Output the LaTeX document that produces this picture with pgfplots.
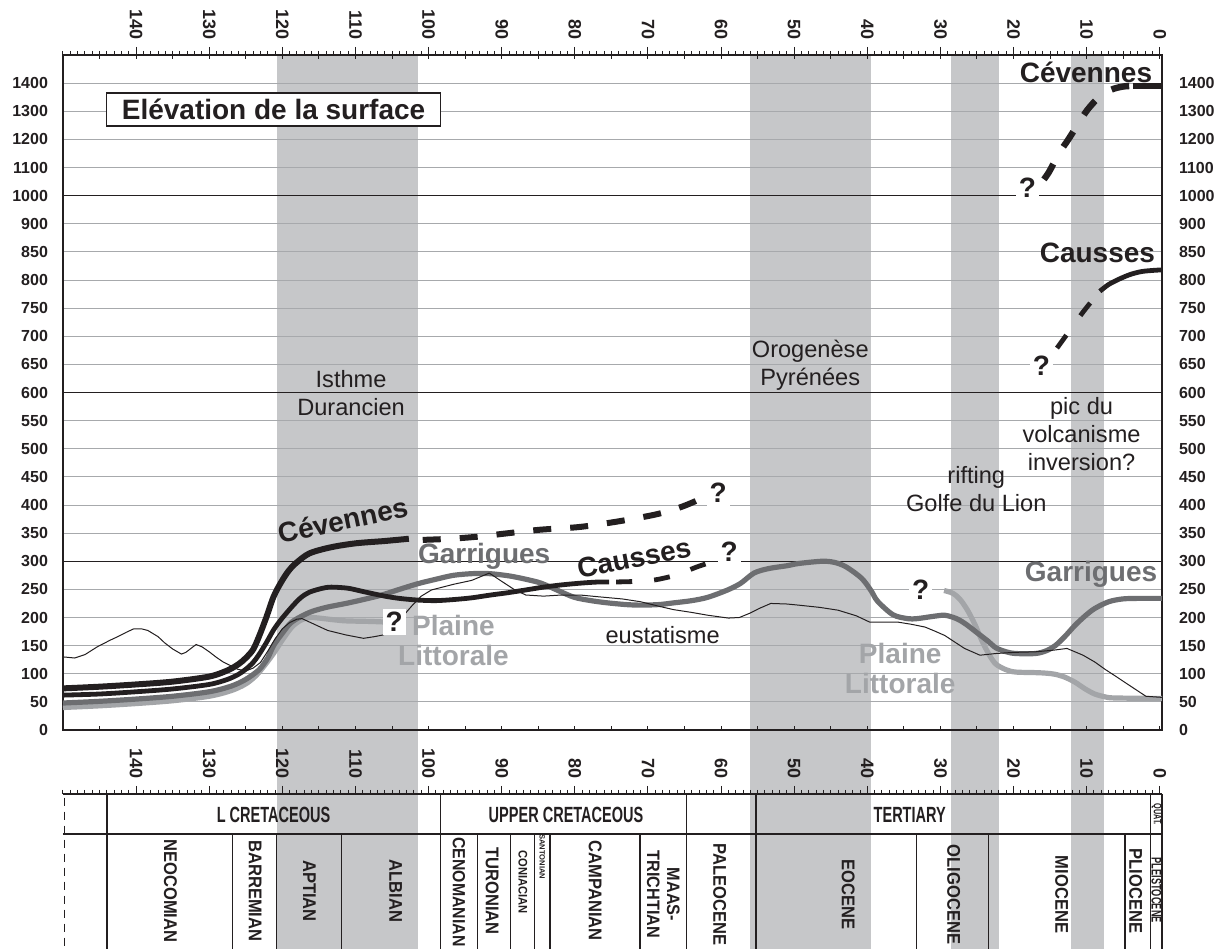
\documentclass[border=0pt]{standalone}
\usepackage{pgfplots}
\pgfplotsset{compat=1.18}
\usepackage{fontspec}
\setmainfont{Liberation Sans}
\newfontfamily\narrowfont[FakeStretch=0.66]{Liberation Sans}
\newfontfamily\tabfont[FakeStretch=0.9]{Liberation Sans}
\definecolor{band}{HTML}{C6C7C9}
\definecolor{gridc}{HTML}{A7A9AC}
\definecolor{ink}{HTML}{231F20}
\definecolor{garr}{HTML}{6D6E71}
\definecolor{plaine}{HTML}{A3A5A8}
\newcommand{\F}[2]{\fontsize{#1}{#2}\selectfont}
\pgfplotsset{myframe/.style={anchor=south west,scale only axis,width=549.5pt,height=337.5pt,
  xmin=-0.3,xmax=150,x dir=reverse,ymin=0,ymax=24}}
\begin{document}
\begin{tikzpicture}
% ---------- bands
\begin{axis}[myframe, hide axis, clip=false]
\addplot[draw=none,fill=band] coordinates {(120.8,24) (101.5,24) (101.5,-7.8) (120.8,-7.8)} --cycle;
\addplot[draw=none,fill=band] coordinates {(56,24) (39.5,24) (39.5,-7.8) (56,-7.8)} --cycle;
\addplot[draw=none,fill=band] coordinates {(28.6,24) (22,24) (22,-7.8) (28.6,-7.8)} --cycle;
\addplot[draw=none,fill=band] coordinates {(12.1,24) (7.6,24) (7.6,-7.8) (12.1,-7.8)} --cycle;
\end{axis}
% ---------- top ruler
\begin{axis}[myframe,
  axis x line*=top, axis y line=none, x axis line style={draw=none},
  tick align=outside, xtick={0,10,...,140}, minor xtick={0,1,...,150},
  xticklabels={0,10,20,30,40,50,60,70,80,90,100,110,120,130,140},
  major tick length=4pt, minor tick length=2pt,
  tick style={ink,line width=0.5pt},
  xticklabel style={rotate=-90,anchor=east,font=\F{9}{9}\bfseries,text=ink}]
\end{axis}
% ---------- lower ruler (same frame, shifted down)
\begin{axis}[myframe, yshift=-369.5pt,
  axis x line*=top, axis y line=none, x axis line style={ink,line width=0.7pt},
  tick align=outside, xtick={0,10,...,140}, minor xtick={0,1,...,150},
  xticklabels={0,10,20,30,40,50,60,70,80,90,100,110,120,130,140},
  major tick length=4pt, minor tick length=2pt,
  tick style={ink,line width=0.5pt},
  xticklabel style={rotate=-90,anchor=east,font=\F{9}{9}\bfseries,text=ink}]
\end{axis}
% ---------- right y labels
\begin{axis}[myframe,
  axis line style={draw=none}, xtick=\empty,
  ytick={0,1,...,23}, ytick pos=right, yticklabel pos=right, ytick style={draw=none},
  yticklabels={0,50,100,150,200,250,300,350,400,450,500,550,600,650,700,750,800,850,900,1000,1100,1200,1300,1400},
  yticklabel style={font=\F{8}{8}\bfseries,text=ink,xshift=5pt}]
\end{axis}
% ---------- main
\begin{axis}[myframe, clip=false,
  axis line style={ink,line width=0.7pt},
  xtick={0,5,...,145}, xticklabels={}, tick align=inside,
  xtick style={ink,line width=0.5pt}, major tick length=2pt,
  ytick={0,1,...,23}, ytick style={draw=none},
  yticklabels={0,50,100,150,200,250,300,350,400,450,500,550,600,650,700,750,800,850,900,1000,1100,1200,1300,1400},
  yticklabel style={font=\F{8}{8}\bfseries,text=ink,xshift=-4pt},
  ymajorgrids, major grid style={gridc,line width=0.5pt},
]
\draw[ink,line width=0.6pt] (axis cs:150,6) -- (axis cs:-0.3,6);
\draw[ink,line width=0.6pt] (axis cs:150,12) -- (axis cs:-0.3,12);
\draw[ink,line width=0.6pt] (axis cs:150,19) -- (axis cs:-0.3,19);

% Plaine Littorale
\addplot[plaine,line width=2.6pt,smooth] table[x=t,y expr=\thisrow{v}/50] {
t v
150 40
145 43
140 47
135 52
130 60
127 70
125 82
123.5 98
122 122
121 140
120 160
118.7 183
117.5 195
116.3 200
115 199
113 196
111.3 194
108 193
106 192
};
\addplot[plaine,line width=2.6pt,smooth] table[x=t,y expr=\thisrow{v}/50] {
t v
29.5 248
28.3 243
27.3 232
26.3 213
25.3 188
24.3 158
23.3 133
22.4 117
21 107
19.7 103
17 102
15.5 101
14.3 99
13 94
11.6 85
10.2 73
8.9 64
7.5 59
6.2 57
-0.3 56
};
% Garrigues
\addplot[garr,line width=2.6pt,smooth] table[x=t,y expr=\thisrow{v}/50] {
t v
150 48
145 51
140 55
135 60
130 68
127 78
125 90
123.2 107
122 128
121.2 150
120 172
118.7 192
116.3 209
114 218
111.3 225
108.9 232
106.4 240
104 250
101.5 260
99 268
96.6 275
94 278
91.7 278
89 274
86.7 268
84.6 261
82.3 248
80.1 236
77.8 230
75.5 226
73 223
71 222
68.5 223
66.5 226
64 230
61.8 236
59.1 249
57.3 261
55.5 279
53.5 287
51 292
49.4 296
46.2 300
44.5 298
42.9 290
40.8 270
39.5 248
38.6 229
36.5 205
34.5 198
33.2 198
31 202
29.4 204
27.8 198
26.5 188
25.1 174
23.5 158
22.4 146
21 139
19.7 136
17 136
15.5 141
14.3 150
13 166
11.6 186
10.2 203
8.9 216
7 228
5.1 233
3 234
-0.3 234
};
% Causses
\addplot[ink,line width=2.4pt,smooth] table[x=t,y expr=\thisrow{v}/50] {
t v
150 62
145 64
140 68
135 73
130 81
127.5 90
126 99
125 108
124 120
123.2 134
122.2 155
121.2 178
120.2 196
118.7 219
117.5 235
116.3 245
114.5 252
113.3 254
111 252
108.9 246
106 238
104 234
101.5 231
99 230
96.5 232
94.1 235
91.5 240
89.2 244
86.7 249
84.3 254
81.8 258
79.3 261
77 263
75.3 263
};
\addplot[ink,line width=2.4pt,smooth,dash pattern=on 8pt off 11pt,dash phase=15.5pt] table[x=t,y expr=\thisrow{v}/50] {
t v
75.3 263
72 264
69 267
66 276
63.5 289
61 300
};
\addplot[ink,line width=2.4pt,smooth,dash pattern=on 8pt off 12pt,dash phase=11pt] table[x=t,y expr=\thisrow{v}/50] {
t v
15.5 653
13 698
10.5 743
8.2 780
};
\addplot[ink,line width=2.4pt,smooth] table[x=t,y expr=\thisrow{v}/50] {
t v
8.2 780
7 792
5.5 802
4 810
2.5 815
1 817
-0.3 818
};
% Cevennes
\addplot[ink,line width=3pt,smooth] table[x=t,y expr=\thisrow{v}/50] {
t v
150 74
145 77
140 81
135 86
130 95
127.5 106
126 117
125 128
124 143
123.2 166
122.2 200
121.2 237
120.2 262
119.2 282
118.2 296
116.3 314
113.3 325
109.9 332
106 336
102.7 340
};
\addplot[ink,line width=3pt,smooth,dash pattern=on 9pt off 9.5pt] table[x=t,y expr=\thisrow{v}/50] {
t v
100.8 338
97 340
93 344
89.7 349
84.8 356
79.3 361
74 371
69 383
66 394
64 404
62.5 413
};
\addplot[ink,line width=3.2pt,smooth,dash pattern=on 9pt off 10pt,dash phase=15pt] table[x=t,y expr=18+(\thisrow{v}-900)/100] {
t v
16.5 1035
15.2 1082
13.8 1150
12.5 1200
11 1262
9.9 1305
8.5 1345
6.7 1376
5 1388
3.6 1390
};
\addplot[ink,line width=3.2pt] table[x=t,y expr=18+(\thisrow{v}-900)/100] {
t v
3.6 1390
-0.3 1390
};
% eustatisme
\addplot[ink,line width=0.5pt] table[x=t,y expr=\thisrow{v}/50] {
t v
150 130
148.4 128
147 134
145.3 148
143.5 160
142.5 166
141.3 174
140.3 180
139.3 180
138.4 177
137 166
136.1 155
135 144
133.8 135
133.2 138
132.7 143
131.8 152
131 148
130 139
129 129
128.1 121
127 114
126.1 108
125 105
124 110
123 120
122 140
121 162
120 180
119 191
118 197
117.3 198
116.3 192
113.8 177
111.3 169
108.9 163
107.4 166
106.2 169
105 180
104 195
103 210
102.2 222
101 238
99.6 249
96.6 259
94.1 266
91.7 279
90.2 266
88.2 249
86.7 240
84.3 238
81.8 240
79.3 240
76.9 237
73.5 233
71 228
68.5 220
66.5 214
64 209
61.8 204
59 199
57.5 200
56 208
54.8 216
53.2 225
51 224
49.4 222
46.5 218
44 213
41.5 203
39.7 192
37 192
35.9 192
34 188
32.1 183
30.8 176
29.4 168
28 156
26.7 145
24.6 133
22.4 136
20 138
17 139
14.5 142
12.7 145
10.5 133
8.9 121
7.5 108
6.2 97
4 78
1.9 60
-0.3 58
};

% ---------- annotations
\node[draw=ink,line width=0.6pt,fill=white,minimum width=167pt,minimum height=16.5pt,inner sep=0pt,font=\F{14}{16}\bfseries,text=ink] at (axis cs:121.2,22.06) {Elévation de la surface};
\node[anchor=east,font=\F{14}{16}\bfseries,text=ink,inner sep=0pt] at (axis cs:1.0,23.4) {Cévennes};
\node[anchor=east,font=\F{14}{16}\bfseries,text=ink,inner sep=0pt] at (axis cs:0.6,16.95) {Causses};
\node[anchor=east,font=\F{14}{16}\bfseries,text=garr,inner sep=0pt] at (axis cs:0.3,5.52) {Garrigues};
\node[align=center,font=\F{11.8}{14},text=ink] at (axis cs:10.7,10.52) {pic du\\volcanisme\\inversion?};
\node[align=center,font=\F{11.8}{14},text=ink] at (axis cs:25.1,8.57) {rifting\\Golfe du Lion};
\node[align=center,font=\F{11.8}{14},text=ink] at (axis cs:47.8,12.98) {Orogenèse\\Pyrénées};
\node[align=center,font=\F{11.8}{14},text=ink] at (axis cs:110.6,11.97) {Isthme\\Durancien};
\node[font=\F{11.8}{14},text=ink] at (axis cs:68,3.36) {eustatisme};
\node[font=\F{14}{16}\bfseries,text=ink,rotate=11] at (axis cs:71.9,6.12) {Causses};
\node[font=\F{14}{16}\bfseries,text=ink,rotate=12] at (axis cs:111.7,7.46) {Cévennes};
\node[font=\F{14}{16}\bfseries,text=garr] at (axis cs:92.4,6.16) {Garrigues};
\node[align=center,font=\F{14}{15}\bfseries,text=plaine] at (axis cs:96.6,3.2) {Plaine\\Littorale};
\node[align=center,font=\F{14}{15}\bfseries,text=plaine] at (axis cs:35.5,2.18) {Plaine\\Littorale};
% question marks
\node[fill=white,inner sep=1.5pt,font=\F{14}{16}\bfseries,text=ink] at (axis cs:60.4,8.43) {?};
\node[fill=white,inner sep=1.5pt,font=\F{14}{16}\bfseries,text=ink] at (axis cs:58.9,6.35) {?};
\node[fill=white,inner sep=1.5pt,font=\F{14}{16}\bfseries,text=ink] at (axis cs:104.7,3.84) {?};
\node[fill=white,inner sep=1.5pt,font=\F{14}{16}\bfseries,text=ink] at (axis cs:32.7,5.0) {?};
\node[fill=white,inner sep=1.5pt,font=\F{14}{16}\bfseries,text=ink] at (axis cs:16.2,12.96) {?};
\node[fill=white,inner sep=1.5pt,font=\F{14}{16}\bfseries,text=ink] at (axis cs:18.1,19.27) {?};

% ---------- stratigraphic table
\draw[ink,line width=0.7pt] (axis cs:150,-3.698) -- (axis cs:-0.3,-3.698);
\draw[ink,line width=0.7pt] (axis cs:-0.3,-2.276) -- (axis cs:-0.3,-7.8);
\draw[ink,line width=0.7pt] (axis cs:144,-2.276) -- (axis cs:144,-7.8);
\draw[ink,line width=0.7pt] (axis cs:98.4,-2.276) -- (axis cs:98.4,-7.8);
\draw[ink,line width=0.7pt] (axis cs:64.7,-2.276) -- (axis cs:64.7,-7.8);
\draw[ink,line width=0.7pt] (axis cs:55.2,-2.276) -- (axis cs:55.2,-7.8);
\draw[ink,line width=0.7pt] (axis cs:1.25,-2.276) -- (axis cs:1.25,-7.8);
\draw[ink,line width=0.7pt] (axis cs:126.8,-3.698) -- (axis cs:126.8,-7.8);
\draw[ink,line width=0.7pt] (axis cs:120.8,-3.698) -- (axis cs:120.8,-7.8);
\draw[ink,line width=0.7pt] (axis cs:111.9,-3.698) -- (axis cs:111.9,-7.8);
\draw[ink,line width=0.7pt] (axis cs:93.3,-3.698) -- (axis cs:93.3,-7.8);
\draw[ink,line width=0.7pt] (axis cs:88.8,-3.698) -- (axis cs:88.8,-7.8);
\draw[ink,line width=0.7pt] (axis cs:85.5,-3.698) -- (axis cs:85.5,-7.8);
\draw[ink,line width=0.7pt] (axis cs:83.4,-3.698) -- (axis cs:83.4,-7.8);
\draw[ink,line width=0.7pt] (axis cs:71.1,-3.698) -- (axis cs:71.1,-7.8);
\draw[ink,line width=0.7pt] (axis cs:33.3,-3.698) -- (axis cs:33.3,-7.8);
\draw[ink,line width=0.7pt] (axis cs:23.4,-3.698) -- (axis cs:23.4,-7.8);
\draw[ink,line width=0.7pt] (axis cs:4.75,-3.698) -- (axis cs:4.75,-7.8);
\draw[ink,line width=0.6pt,dash pattern=on 4pt off 3pt] (axis cs:149.8,-2.4) -- (axis cs:149.8,-7.8);
% upper row
\node[font=\narrowfont\F{11}{12}\bfseries,text=ink] at (axis cs:121.2,-3.02) {L CRETACEOUS};
\node[font=\narrowfont\F{11}{12}\bfseries,text=ink] at (axis cs:81.2,-3.02) {UPPER CRETACEOUS};
\node[font=\narrowfont\F{11}{12}\bfseries,text=ink] at (axis cs:34.2,-3.02) {TERTIARY};
\node[rotate=-90,font=\narrowfont\F{5.5}{6}\bfseries,text=ink,inner sep=0pt] at (axis cs:0.45,-3.0) {QUAT.};
% lower row
\node[rotate=-90,font=\tabfont\F{9.2}{10}\bfseries,text=ink,inner sep=0pt] at (axis cs:135.3,-5.72) {NEOCOMIAN};
\node[rotate=-90,font=\tabfont\F{9.2}{10}\bfseries,text=ink,inner sep=0pt] at (axis cs:123.7,-5.72) {BARREMIAN};
\node[rotate=-90,font=\tabfont\F{9.2}{10}\bfseries,text=ink,inner sep=0pt] at (axis cs:116.3,-5.72) {APTIAN};
\node[rotate=-90,font=\tabfont\F{9.2}{10}\bfseries,text=ink,inner sep=0pt] at (axis cs:104.5,-5.72) {ALBIAN};
\node[rotate=-90,font=\tabfont\F{8.8}{10}\bfseries,text=ink,inner sep=0pt] at (axis cs:95.85,-5.76) {CENOMANIAN};
\node[rotate=-90,font=\tabfont\F{9.2}{10}\bfseries,text=ink,inner sep=0pt] at (axis cs:91.3,-5.72) {TURONIAN};
\node[rotate=-90,font=\tabfont\F{9.2}{10}\bfseries,text=ink,inner sep=0pt] at (axis cs:77.2,-5.72) {CAMPANIAN};
\node[rotate=-90,font=\tabfont\F{9.2}{10}\bfseries,text=ink,inner sep=0pt] at (axis cs:60.2,-5.85) {PALEOCENE};
\node[rotate=-90,font=\tabfont\F{9.2}{10}\bfseries,text=ink,inner sep=0pt] at (axis cs:42.6,-5.85) {EOCENE};
\node[rotate=-90,font=\tabfont\F{9.2}{10}\bfseries,text=ink,inner sep=0pt] at (axis cs:28.2,-5.85) {OLIGOCENE};
\node[rotate=-90,font=\tabfont\F{9.2}{10}\bfseries,text=ink,inner sep=0pt] at (axis cs:13.4,-5.85) {MIOCENE};
\node[rotate=-90,font=\tabfont\F{9.2}{10}\bfseries,text=ink,inner sep=0pt] at (axis cs:3.3,-5.72) {PLIOCENE};
\node[rotate=-90,font=\tabfont\F{6.2}{7}\bfseries,text=ink,inner sep=0pt] at (axis cs:87.1,-5.4) {CONIACIAN};
\node[rotate=-90,font=\F{3.8}{4}\bfseries,text=ink,inner sep=0pt] at (axis cs:84.45,-4.5) {SANTONIAN};
\node[rotate=-90,align=center,font=\tabfont\F{9}{10}\bfseries,text=ink,inner sep=0pt] at (axis cs:67.9,-5.85) {MAAS-\\TRICHTIAN};
\node[rotate=-90,font=\narrowfont\F{7}{7}\bfseries,text=ink,inner sep=0pt] at (axis cs:0.45,-5.7) {PLEISTOCENE};
\end{axis}
\pgfresetboundingbox
\path[use as bounding box] (-31.5pt,-109.5pt) rectangle (579pt,365pt);
\end{tikzpicture}
\end{document}
